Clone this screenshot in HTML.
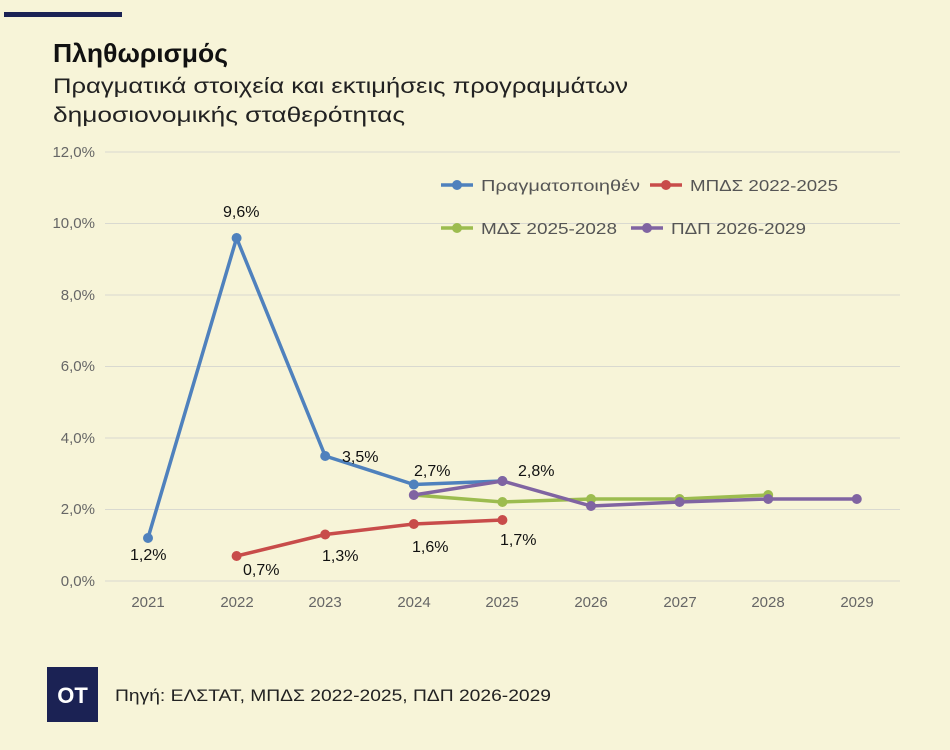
<!DOCTYPE html>
<html><head><meta charset="utf-8"><style>
body{margin:0;background:#f7f4d8;}
svg{display:block;font-family:"Liberation Sans",sans-serif;}
</style></head><body>
<svg width="950" height="750" viewBox="0 0 950 750">
<rect width="950" height="750" fill="#f7f4d8"/>
<rect x="4" y="12" width="118" height="5" fill="#1b2254"/>
<text x="53" y="62" font-size="26" font-weight="bold" fill="#111" textLength="175" lengthAdjust="spacingAndGlyphs">Πληθωρισμός</text>
<text x="53" y="93" font-size="21" fill="#222" textLength="575" lengthAdjust="spacingAndGlyphs">Πραγματικά στοιχεία και εκτιμήσεις προγραμμάτων</text>
<text x="53" y="122" font-size="21" fill="#222" textLength="352" lengthAdjust="spacingAndGlyphs">δημοσιονομικής σταθερότητας</text>
<g stroke="#d9d9d0" stroke-width="1">
<line x1="105" x2="900" y1="152" y2="152"/><line x1="105" x2="900" y1="223.5" y2="223.5"/>
<line x1="105" x2="900" y1="295" y2="295"/><line x1="105" x2="900" y1="366.5" y2="366.5"/>
<line x1="105" x2="900" y1="438" y2="438"/><line x1="105" x2="900" y1="509.5" y2="509.5"/>
<line x1="105" x2="900" y1="581" y2="581"/>
</g>
<g font-size="15" fill="#666" text-anchor="end">
<text x="95" y="157">12,0%</text><text x="95" y="228">10,0%</text><text x="95" y="300">8,0%</text>
<text x="95" y="371">6,0%</text><text x="95" y="443">4,0%</text><text x="95" y="514">2,0%</text><text x="95" y="586">0,0%</text>
</g>
<g font-size="15" fill="#666" text-anchor="middle">
<text x="148" y="607">2021</text><text x="237" y="607">2022</text><text x="325" y="607">2023</text>
<text x="414" y="607">2024</text><text x="502" y="607">2025</text><text x="591" y="607">2026</text>
<text x="680" y="607">2027</text><text x="768" y="607">2028</text><text x="857" y="607">2029</text>
</g>
<g stroke-width="3.5" fill="none">
<polyline stroke="#9cbc4f" points="413.8,495 502.4,502 591,499 679.6,499 768.2,495"/>
<polyline stroke="#c84c4a" points="236.6,556 325.2,534.5 413.8,524 502.4,520"/>
<polyline stroke="#4f81bd" points="148,538 236.6,238 325.2,456 413.8,484.5 502.4,481"/>
<polyline stroke="#8064a2" points="413.8,495 502.4,481 591,506 679.6,502 768.2,499 856.8,499"/>
</g>
<g fill="#9cbc4f"><circle cx="502.4" cy="502" r="5"/><circle cx="591" cy="499" r="5"/><circle cx="679.6" cy="499" r="5"/><circle cx="768.2" cy="495" r="5"/></g>
<g fill="#c84c4a"><circle cx="236.6" cy="556" r="5"/><circle cx="325.2" cy="534.5" r="5"/><circle cx="413.8" cy="524" r="5"/><circle cx="502.4" cy="520" r="5"/></g>
<g fill="#4f81bd"><circle cx="148" cy="538" r="5"/><circle cx="236.6" cy="238" r="5"/><circle cx="325.2" cy="456" r="5"/><circle cx="413.8" cy="484.5" r="5"/><circle cx="502.4" cy="481" r="5"/></g>
<g fill="#8064a2"><circle cx="413.8" cy="495" r="5"/><circle cx="502.4" cy="481" r="5"/><circle cx="591" cy="506" r="5"/><circle cx="679.6" cy="502" r="5"/><circle cx="768.2" cy="499" r="5"/><circle cx="856.8" cy="499" r="5"/></g>
<g font-size="16" fill="#111">
<text x="130" y="560">1,2%</text><text x="223" y="217">9,6%</text><text x="342" y="462">3,5%</text>
<text x="414" y="476">2,7%</text><text x="518" y="476">2,8%</text>
<text x="243" y="575">0,7%</text><text x="322" y="561">1,3%</text><text x="412" y="552">1,6%</text><text x="500" y="545">1,7%</text>
</g>
<g font-size="16" fill="#555">
<line x1="441" x2="473" y1="185" y2="185" stroke="#4f81bd" stroke-width="3.5"/><circle cx="457" cy="185" r="5" fill="#4f81bd"/>
<text x="481" y="191" textLength="159" lengthAdjust="spacingAndGlyphs">Πραγματοποιηθέν</text>
<line x1="650" x2="682" y1="185" y2="185" stroke="#c84c4a" stroke-width="3.5"/><circle cx="666" cy="185" r="5" fill="#c84c4a"/>
<text x="690" y="191" textLength="148" lengthAdjust="spacingAndGlyphs">ΜΠΔΣ 2022-2025</text>
<line x1="441" x2="473" y1="228" y2="228" stroke="#9cbc4f" stroke-width="3.5"/><circle cx="457" cy="228" r="5" fill="#9cbc4f"/>
<text x="481" y="234" textLength="136" lengthAdjust="spacingAndGlyphs">ΜΔΣ 2025-2028</text>
<line x1="631" x2="663" y1="228" y2="228" stroke="#8064a2" stroke-width="3.5"/><circle cx="647" cy="228" r="5" fill="#8064a2"/>
<text x="671" y="234" textLength="135" lengthAdjust="spacingAndGlyphs">ΠΔΠ 2026-2029</text>
</g>
<rect x="47" y="667" width="51" height="55" fill="#1b2254"/>
<text x="72.5" y="703" font-size="22" font-weight="bold" fill="#fff" text-anchor="middle">OT</text>
<text x="115" y="701" font-size="17" fill="#222" textLength="436" lengthAdjust="spacingAndGlyphs">Πηγή: ΕΛΣΤΑΤ, ΜΠΔΣ 2022-2025, ΠΔΠ 2026-2029</text>
</svg>
</body></html>
